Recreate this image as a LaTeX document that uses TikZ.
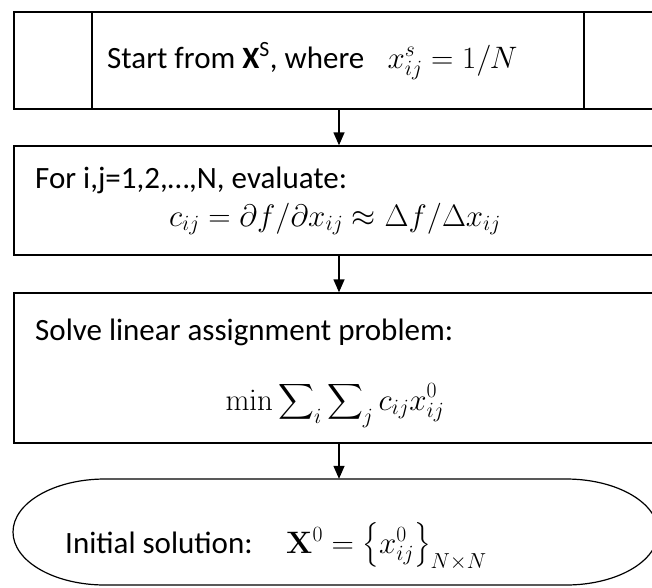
\RequirePackage{fix-cm}
\documentclass[tikz,border=0pt]{standalone}
\usepackage[no-math]{fontspec}
\setmainfont{Carlito}
\usepackage{amsmath}
\usetikzlibrary{arrows.meta}
\begin{document}
\begin{tikzpicture}[x=1pt,y=-1pt,
  boxshape/.style={draw, line width=1.4pt, inner sep=0pt},
  txt/.style={inner sep=0pt, font=\fontsize{31}{37}\selectfont},
  arr/.style={line width=1.4pt, -{Triangle[length=13pt,width=11pt]}},
  term/.style={line width=1.2pt}]
\useasboundingbox (0,0) rectangle (652,587);
\clip (0,0) rectangle (652,587);
\coordinate (ax) at (339,0);
% boxes
\node[boxshape, minimum width=676pt, minimum height=97pt] (b1) at (352,60.5) {};
\draw[line width=1.4pt] (b1.north -| 92,0) -- (b1.south -| 92,0);
\draw[line width=1.4pt] (b1.north -| 584,0) -- (b1.south -| 584,0);
\node[boxshape, minimum width=676pt, minimum height=109pt] (b2) at (352,200.5) {};
\node[boxshape, minimum width=676pt, minimum height=150pt] (b3) at (352,368) {};
% terminal
\node[minimum width=645pt, minimum height=106pt, inner sep=0pt] (term) at (335.5,532) {};
\draw[term] (105,479) -- (566,479) arc[start angle=-90, end angle=90, x radius=92, y radius=53]
  -- (105,585) arc[start angle=90, end angle=270, x radius=92, y radius=53] -- cycle;
% texts
\node[txt, anchor=base west] (t1) at (107,68) {Start from \textbf{X}\textsuperscript{S}, where\hspace{0.75em}$x_{ij}^s = 1/N$};
\node[txt, anchor=base west] (t2) at (35,188) {For i,j=1,2,\dots,N, evaluate:};
\node[txt, anchor=base] (f2) at (335,226) {$c_{ij} = \partial f/\partial x_{ij} \approx \Delta f/\Delta x_{ij}$};
\node[txt, anchor=base west] (t3) at (35,340) {Solve linear assignment problem:};
\node[txt, anchor=base] (f3) at (335,410) {$\displaystyle \min \sum\nolimits_i \sum\nolimits_j c_{ij} x_{ij}^0$};
\node[txt, anchor=base west] (t4) at (65,553) {Initial solution:};
\node[txt, anchor=base west] (f4) at (286,553) {$\mathbf{X}^0 = \bigl\{x_{ij}^0\bigr\}_{N\times N}$};
% arrows
\draw[arr] (b1.south -| ax) -- (b2.north -| ax);
\draw[arr] (b2.south -| ax) -- (b3.north -| ax);
\draw[arr] (b3.south -| ax) -- (term.north -| ax);
\end{tikzpicture}
\end{document}
